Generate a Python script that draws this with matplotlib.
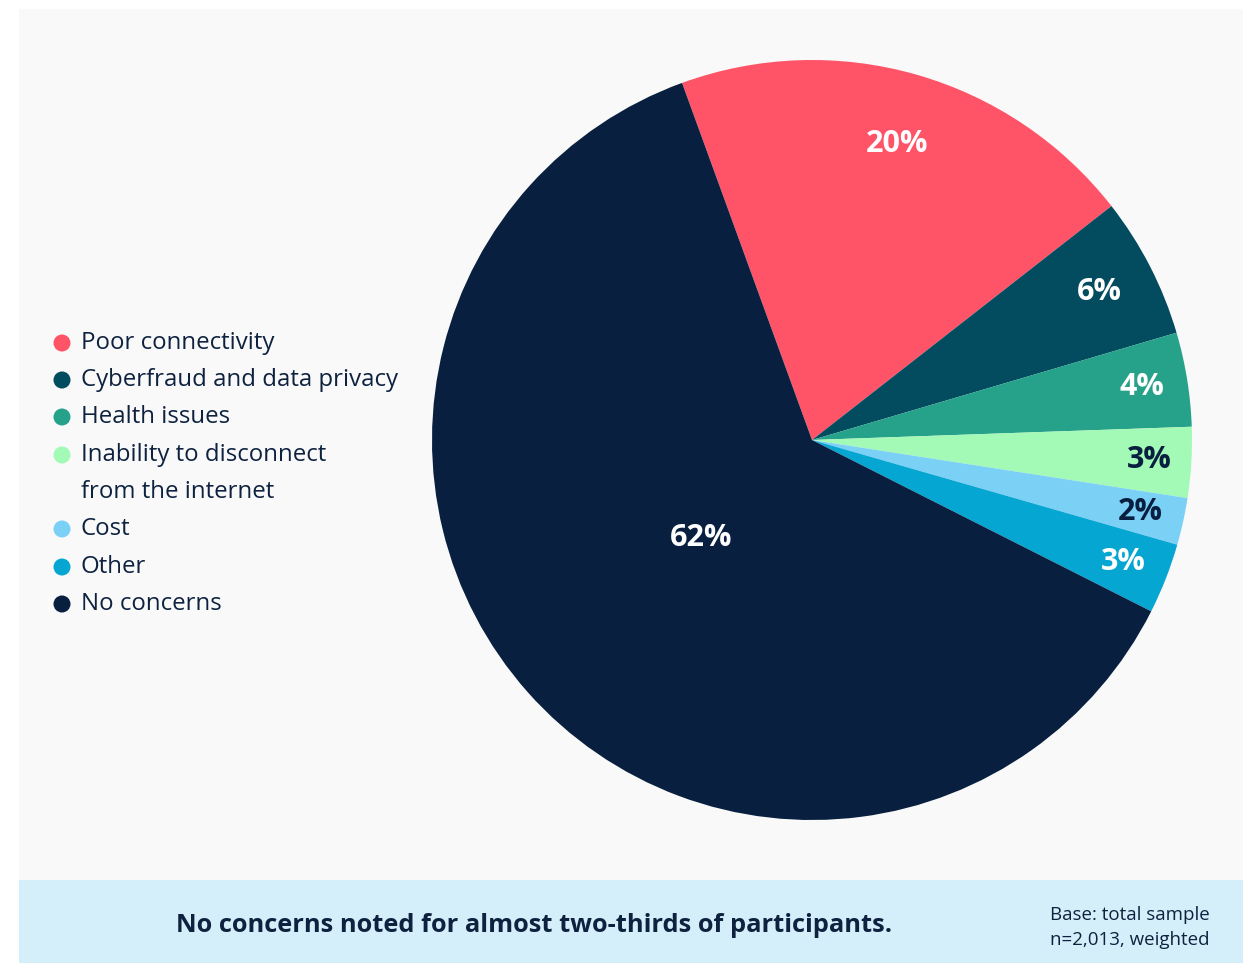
import numpy as np
import matplotlib
matplotlib.use("Agg")
import matplotlib.pyplot as plt
from matplotlib.patches import Rectangle

# ======================================
# DATA
# ======================================

categories = [
    "Poor connectivity",
    "Cyberfraud and data privacy",
    "Health issues",
    "Inability to disconnect\nfrom the internet",
    "Cost",
    "Other",
    "No concerns",
]
shares = [20, 6, 4, 3, 2, 3, 62]

colors = ["#FF5468", "#034B5E", "#27A28A", "#A3F9B6", "#7BD0F5", "#05A6D2", "#081F3F"]
label_colors = ["white", "white", "white", "#081F3F", "#081F3F", "white", "white"]
label_radius = [0.81, 0.85, 0.88, 0.89, 0.885, 0.88, 0.39]

navy = "#0E2240"
font = "Open Sans"

# ======================================
# FIGURE
# ======================================

W, H = 1254, 963
fig = plt.figure(figsize=(W / 100, H / 100), dpi=100)
fig.patch.set_facecolor("white")

bg = fig.add_axes([0, 0, 1, 1])
bg.set_xlim(0, W)
bg.set_ylim(H, 0)
bg.axis("off")
bg.add_patch(Rectangle((19, 9), 1224, 871, facecolor="#F9F9F9", edgecolor="none"))
bg.add_patch(Rectangle((19, 880), 1224, 83, facecolor="#D5EFFA", edgecolor="none"))

# ======================================
# PIE
# ======================================

cx, cy, r = 812, 440, 380
ax = fig.add_axes([(cx - r) / W, (H - cy - r) / H, 2 * r / W, 2 * r / H])
wedges, _ = ax.pie(
    shares,
    colors=colors,
    startangle=110,
    counterclock=False,
    radius=1,
    wedgeprops=dict(linewidth=0),
)
ax.set_xlim(-1, 1)
ax.set_ylim(-1, 1)
ax.axis("off")

for w, val, col, rad in zip(wedges, shares, label_colors, label_radius):
    mid = np.deg2rad((w.theta1 + w.theta2) / 2)
    ax.text(
        rad * np.cos(mid), rad * np.sin(mid), f"{val}%",
        ha="center", va="center", fontsize=22, fontweight="bold",
        color=col, family=font,
    )

# ======================================
# LEGEND
# ======================================

rows = [343, 380, 417, 455, 529, 567, 604]
for y, label, col in zip(rows, categories, colors):
    bg.scatter([62], [y], s=150, color=col, edgecolor="none")
    for i, line in enumerate(label.split("\n")):
        bg.text(81, y + 37 * i, line, ha="left", va="center", fontsize=17.3,
                color=navy, family=font)

# ======================================
# FOOTER
# ======================================

bg.text(534, 926, "No concerns noted for almost two-thirds of participants.",
        ha="center", va="center", fontsize=18.3, fontweight="bold",
        color=navy, family=font)
bg.text(1050, 915, "Base: total sample", ha="left", va="center",
        fontsize=13.5, color=navy, family=font)
bg.text(1050, 940, "n=2,013, weighted", ha="left", va="center",
        fontsize=13.5, color=navy, family=font)

fig.savefig("out.png", dpi=100, facecolor=fig.get_facecolor())
